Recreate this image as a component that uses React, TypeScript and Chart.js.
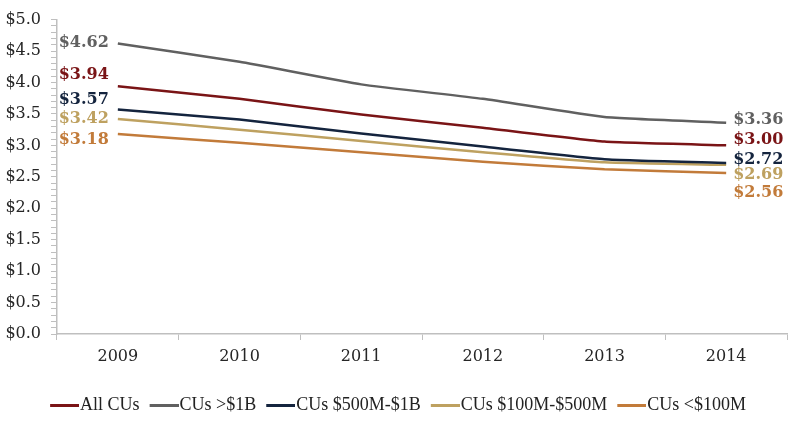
import React, { useEffect, useRef } from "react";
import { Chart, registerables } from "chart.js";

Chart.register(...registerables);

const years = ["2009", "2010", "2011", "2012", "2013", "2014"];
const seriesNames = ["All CUs", "CUs >$1B", "CUs $500M-$1B", "CUs $100M-$500M", "CUs <$100M"];
const allCUs = [3.94, 3.74, 3.49, 3.28, 3.06, 3.0];
const over1B = [4.62, 4.33, 3.97, 3.74, 3.45, 3.36];
const mid500To1B = [3.57, 3.41, 3.19, 2.98, 2.78, 2.72];
const mid100To500 = [3.42, 3.25, 3.07, 2.89, 2.73, 2.69];
const under100M = [3.18, 3.04, 2.89, 2.74, 2.62, 2.56];
const seriesValues = [allCUs, over1B, mid500To1B, mid100To500, under100M];

const lineColors = ["#7a1416", "#606060", "#14243e", "#bea160", "#c27b3a"];
// vertical nudges (px) for first / last value labels to avoid overlap
const firstLabelNudge = [-11, -1, -10, 0, 6];
const lastLabelNudge = [-6, -3, -3, 10, 20];

const FONT = "'DejaVu Serif', serif";

// legend swatch image: transparent left part, painted 29px line on the right
function swatch(color: string) {
  const c = document.createElement("canvas");
  c.width = 46;
  c.height = 3;
  const g = c.getContext("2d")!;
  g.fillStyle = color;
  g.fillRect(17, 0, 29, 3);
  return c;
}

const endLabels = {
  id: "endLabels",
  afterDatasetsDraw(chart: any) {
    const ctx = chart.ctx;
    ctx.save();
    ctx.font = `bold 16px ${FONT}`;
    ctx.textBaseline = "middle";
    chart.data.datasets.forEach((ds: any, i: number) => {
      const meta = chart.getDatasetMeta(i);
      const pts = meta.data;
      const first = pts[0];
      const last = pts[pts.length - 1];
      const vals = ds.data;
      ctx.fillStyle = lineColors[i];
      ctx.textAlign = "right";
      ctx.fillText("$" + vals[0].toFixed(2), first.x - 9, first.y + firstLabelNudge[i]);
      ctx.textAlign = "left";
      ctx.fillText("$" + vals[vals.length - 1].toFixed(2), last.x + 7, last.y + lastLabelNudge[i]);
    });
    ctx.restore();
  },
};

export default function App() {
  const ref = useRef<HTMLCanvasElement>(null);
  useEffect(() => {
    if (!ref.current) return;
    const chart = new Chart(ref.current, {
      type: "line",
      data: {
        labels: years,
        datasets: seriesNames.map((name, i) => ({
          label: name,
          data: seriesValues[i],
          borderColor: lineColors[i],
          backgroundColor: lineColors[i],
          borderWidth: 2.5,
          pointRadius: 0,
          pointStyle: swatch(lineColors[i]) as any,
          tension: 0.15,
          fill: false,
        })),
      },
      options: {
        animation: false,
        responsive: true,
        maintainAspectRatio: false,
        layout: { padding: { top: 8, right: 13, bottom: 5, left: 0 } },
        plugins: {
          tooltip: { enabled: false },
          legend: {
            position: "bottom",
            labels: {
              font: { family: "'Liberation Serif', serif", size: 18 },
              color: "#222",
              usePointStyle: true,
              pointStyleWidth: 30,
              boxWidth: 30,
              boxHeight: 3,
              padding: 1,
            },
          },
        },
        scales: {
          x: {
            offset: true,
            grid: { display: true, drawOnChartArea: false, drawTicks: true, tickLength: 6, color: "#bfbfbf", offset: true },
            border: { color: "#bfbfbf", width: 1.5 },
            ticks: { font: { family: FONT, size: 16 }, color: "#262626", padding: 7 },
            afterFit: (s: any) => {
              s.height = 61;
            },
          },
          y: {
            min: 0,
            max: 5,
            grid: { display: true, drawOnChartArea: false, drawTicks: true, tickLength: 6, color: "#bfbfbf" },
            border: { color: "#bfbfbf", width: 1.5 },
            ticks: {
              stepSize: 0.1,
              autoSkip: false,
              maxTicksLimit: 100,
              padding: 10,
              font: { family: FONT, size: 16 },
              color: "#262626",
              callback: (v: any) => {
                const n = Number(v);
                return Math.abs(n * 2 - Math.round(n * 2)) < 1e-6 ? "$" + n.toFixed(1) : "";
              },
            },
            afterFit: (s: any) => {
              s.width = 57;
            },
          },
        },
      },
      plugins: [endLabels],
    });
    return () => chart.destroy();
  }, []);
  return (
    <div style={{ position: "absolute", left: 0, top: 0, width: 800, height: 429, background: "#fff" }}>
      <canvas ref={ref} />
    </div>
  );
}
